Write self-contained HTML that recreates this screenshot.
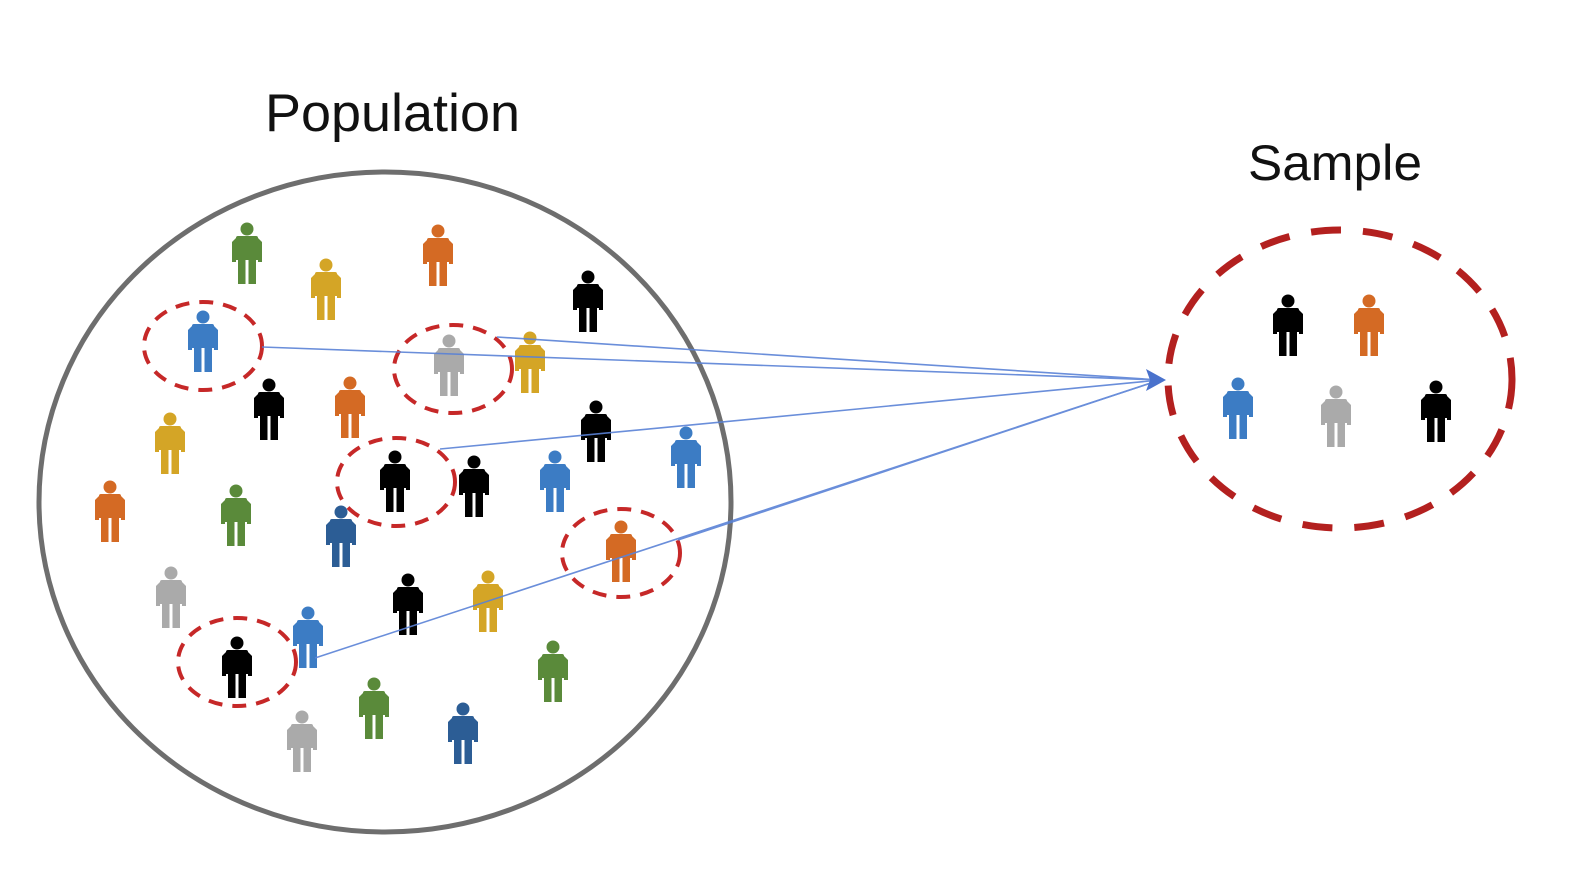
<!DOCTYPE html>
<html><head><meta charset="utf-8"><style>html,body{margin:0;padding:0;background:#fff}svg{display:block}</style></head>
<body>
<svg width="1582" height="870" viewBox="0 0 1582 870" xmlns="http://www.w3.org/2000/svg">
<defs>
<g id="p">
<circle cx="0" cy="7" r="6.5"/>
<path d="M-11,16 Q-11,14 -9,14 L9,14 Q11,14 11,16 L11,38 L9,38 L9,62 L1.5,62 L1.5,38 L-1.5,38 L-1.5,62 L-9,62 L-9,38 L-11,38 Z"/>
<path d="M-11,16 L-15,20 L-15,40 L-11,40 Z M11,16 L15,20 L15,40 L11,40 Z"/>
</g>
</defs>
<text x="265" y="131" font-family="Liberation Sans, sans-serif" font-size="53" fill="#111" textLength="255" lengthAdjust="spacingAndGlyphs">Population</text>
<text x="1248" y="180" font-family="Liberation Sans, sans-serif" font-size="50" fill="#111" textLength="174" lengthAdjust="spacingAndGlyphs">Sample</text>
<ellipse cx="385" cy="502" rx="346" ry="330" fill="none" stroke="#6e6e6e" stroke-width="5"/>
<g fill="none" stroke="#c62828" stroke-width="4" stroke-dasharray="14,10">
<ellipse cx="203" cy="346" rx="59" ry="44"/>
<ellipse cx="453" cy="369" rx="59" ry="44"/>
<ellipse cx="396" cy="482" rx="59" ry="44"/>
<ellipse cx="621" cy="553" rx="59" ry="44"/>
<ellipse cx="237" cy="662" rx="59" ry="44"/>
</g>
<ellipse cx="1340" cy="379" rx="172" ry="149" fill="none" stroke="#b3201f" stroke-width="7" stroke-dasharray="30,22"/>
<g>
<use href="#p" x="247" y="222" fill="#5a8a3a"/>
<use href="#p" x="326" y="258" fill="#d4a526"/>
<use href="#p" x="438" y="224" fill="#d46a24"/>
<use href="#p" x="588" y="270" fill="#000"/>
<use href="#p" x="203" y="310" fill="#3c7cc4"/>
<use href="#p" x="449" y="334" fill="#aaa"/>
<use href="#p" x="530" y="331" fill="#d4a526"/>
<use href="#p" x="269" y="378" fill="#000"/>
<use href="#p" x="350" y="376" fill="#d46a24"/>
<use href="#p" x="170" y="412" fill="#d4a526"/>
<use href="#p" x="596" y="400" fill="#000"/>
<use href="#p" x="395" y="450" fill="#000"/>
<use href="#p" x="474" y="455" fill="#000"/>
<use href="#p" x="555" y="450" fill="#3c7cc4"/>
<use href="#p" x="686" y="426" fill="#3c7cc4"/>
<use href="#p" x="110" y="480" fill="#d46a24"/>
<use href="#p" x="236" y="484" fill="#5a8a3a"/>
<use href="#p" x="341" y="505" fill="#2c5d95"/>
<use href="#p" x="621" y="520" fill="#d46a24"/>
<use href="#p" x="171" y="566" fill="#aaa"/>
<use href="#p" x="408" y="573" fill="#000"/>
<use href="#p" x="488" y="570" fill="#d4a526"/>
<use href="#p" x="308" y="606" fill="#3c7cc4"/>
<use href="#p" x="237" y="636" fill="#000"/>
<use href="#p" x="553" y="640" fill="#5a8a3a"/>
<use href="#p" x="374" y="677" fill="#5a8a3a"/>
<use href="#p" x="463" y="702" fill="#2c5d95"/>
<use href="#p" x="302" y="710" fill="#aaa"/>
<use href="#p" x="1288" y="294" fill="#000"/>
<use href="#p" x="1369" y="294" fill="#d46a24"/>
<use href="#p" x="1238" y="377" fill="#3c7cc4"/>
<use href="#p" x="1336" y="385" fill="#aaa"/>
<use href="#p" x="1436" y="380" fill="#000"/>
</g>
<g stroke="#5a82d6" stroke-width="1.6" fill="none" opacity="0.9">
<line x1="262" y1="347" x2="1160" y2="380"/>
<line x1="497" y1="337" x2="1160" y2="380"/>
<line x1="440" y1="449" x2="1160" y2="380"/>
<line x1="315" y1="658" x2="1160" y2="380"/>
<line x1="678" y1="540" x2="1160" y2="380"/>
</g>
<polygon points="1166,380 1146,369 1150,380 1146,391" fill="#4a72cc"/>
</svg>
</body></html>
